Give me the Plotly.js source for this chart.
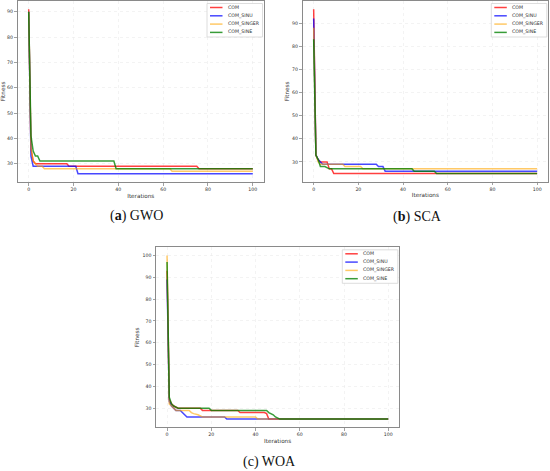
<!DOCTYPE html>
<html>
<head>
<meta charset="utf-8">
<script src="https://cdn.plot.ly/plotly-3.0.1.min.js"></script>
<style>html,body{margin:0;padding:0;background:#fff;}#chart{width:550px;height:471px;}</style>
</head>
<body>
<div id="chart"></div>
<script>
// ---------------- data ----------------
const seriesNames = ['COM', 'COM_SINU', 'COM_SINGER', 'COM_SINE'];
const xTicks = [0, 20, 40, 60, 80, 100];

// (a) GWO : iteration breakpoints and best fitness
const gwoComIter    = [0, 1, 2, 3, 17, 18, 75, 76, 100];
const gwoComFit     = [91, 36, 31, 30, 30, 29, 29, 28, 28];
const gwoSinuIter   = [0, 1, 2, 21, 22, 100];
const gwoSinuFit    = [90, 33, 29, 29, 26, 26];
const gwoSingerIter = [0, 1, 2, 3, 4, 6, 7, 63, 64, 100];
const gwoSingerFit  = [90, 36, 31, 30, 29, 29, 28, 28, 27, 27];
const gwoSineIter   = [0, 1, 2, 3, 4, 5, 38, 39, 100];
const gwoSineFit    = [90, 41, 35, 33, 33, 31, 31, 28, 28];
const gwoYTicks     = [30, 40, 50, 60, 70, 80, 90];

// (b) SCA
const scaComIter    = [0, 1, 2, 3, 6, 7, 8, 9, 100];
const scaComFit     = [96, 33, 31, 30, 30, 27, 27, 25, 25];
const scaSinuIter   = [0, 1, 2, 3, 4, 28, 29, 31, 32, 100];
const scaSinuFit    = [92, 33, 31, 30, 29, 29, 28, 28, 26, 26];
const scaSingerIter = [0, 1, 2, 3, 13, 14, 21, 22, 100];
const scaSingerFit  = [88, 33, 30, 29, 29, 28, 28, 27, 27];
const scaSineIter   = [0, 1, 2, 3, 5, 6, 7, 44, 45, 54, 55, 100];
const scaSineFit    = [83, 33, 31, 28, 28, 27.5, 27, 27, 26, 26, 25, 25];
const scaYTicks     = [30, 40, 50, 60, 70, 80, 90];

// (c) WOA
const woaComIter    = [0, 1, 2, 3, 5, 15, 16, 32, 33, 44, 45, 46, 100];
const woaComFit     = [93, 34, 32, 31, 30, 30, 29, 29, 28, 28, 27.5, 25, 25];
const woaSinuIter   = [0, 1, 2, 3, 4, 6, 7, 8, 9, 26, 27, 100];
const woaSinuFit    = [89, 33, 31, 30, 29, 29, 28, 27, 26, 26, 25, 25];
const woaSingerIter = [0, 1, 2, 3, 4, 10, 11, 12, 14, 16, 40, 41, 100];
const woaSingerFit  = [100, 32, 31, 30, 29, 29, 28, 27.5, 27, 26, 26, 25, 25];
const woaSineIter   = [0, 1, 2, 3, 5, 19, 20, 45, 46, 47, 48, 49, 50, 51, 100];
const woaSineFit    = [97, 35, 32, 31, 30, 30, 29, 29, 28, 27.5, 27, 26, 25.5, 25, 25];
const woaYTicks     = [30, 40, 50, 60, 70, 80, 90, 100];

// ---------------- styling ----------------
const W = 550, H = 471;
const colors = ['rgba(255,0,0,0.75)', 'rgba(0,0,255,0.72)', 'rgba(255,165,0,0.6)', 'rgba(0,128,0,0.78)'];
const FONT = "'DejaVu Sans', sans-serif";
const SERIF = "'Liberation Serif', 'DejaVu Serif', serif";

const panels = [
  { xa: 'x',  ya: 'y',  px: [17.5, 264],   py: [1, 182],     yr: [22.75, 94.25], yt: gwoYTicks,
    iters: [gwoComIter, gwoSinuIter, gwoSingerIter, gwoSineIter],
    fits:  [gwoComFit, gwoSinuFit, gwoSingerFit, gwoSineFit] },
  { xa: 'x2', ya: 'y2', px: [302.5, 548.3], py: [1, 181.7],   yr: [21.45, 99.55], yt: scaYTicks,
    iters: [scaComIter, scaSinuIter, scaSingerIter, scaSineIter],
    fits:  [scaComFit, scaSinuFit, scaSingerFit, scaSineFit] },
  { xa: 'x3', ya: 'y3', px: [156, 399.3],   py: [247.3, 427.3], yr: [21.25, 103.75], yt: woaYTicks,
    iters: [woaComIter, woaSinuIter, woaSingerIter, woaSineIter],
    fits:  [woaComFit, woaSinuFit, woaSingerFit, woaSineFit] }
];

const data = [];
const layout = {
  width: W, height: H,
  margin: { l: 0, r: 0, t: 0, b: 0 },
  paper_bgcolor: '#fff', plot_bgcolor: '#fff',
  showlegend: false,
  font: { family: FONT, color: '#333' },
  shapes: [], annotations: []
};

panels.forEach((p, k) => {
  p.iters.forEach((it, i) => {
    data.push({
      type: 'scatter', mode: 'lines', name: seriesNames[i],
      x: it, y: p.fits[i], xaxis: p.xa, yaxis: p.ya,
      line: { color: colors[i], width: 1.5 }, hoverinfo: 'skip'
    });
  });
  const axx = 'xaxis' + (k ? k + 1 : ''), axy = 'yaxis' + (k ? k + 1 : '');
  const common = {
    showline: true, mirror: true, linecolor: '#8a8a8a', linewidth: 1,
    ticks: 'outside', ticklen: 2.5, tickcolor: '#8a8a8a', tickwidth: 0.8,
    showgrid: true, gridcolor: '#ebebeb', gridwidth: 0.6, griddash: 'dot',
    zeroline: false, tickfont: { size: 4.7, family: FONT, color: '#333' },
    fixedrange: true, automargin: false
  };
  layout[axx] = Object.assign({}, common, {
    domain: [p.px[0] / W, p.px[1] / W], range: [-5, 105],
    tickvals: xTicks, anchor: p.ya,
    title: { text: 'Iterations', font: { size: 5.7, family: FONT, color: '#333' }, standoff: 2 }
  });
  layout[axy] = Object.assign({}, common, {
    domain: [1 - p.py[1] / H, 1 - p.py[0] / H], range: p.yr,
    tickvals: p.yt, anchor: p.xa,
    title: { text: 'Fitness', font: { size: 5.7, family: FONT, color: '#333' }, standoff: 2 }
  });

  // legend box (matplotlib-like) in axis-domain coordinates
  const pw = p.px[1] - p.px[0], ph = p.py[1] - p.py[0];
  const fx = d => 1 - d / pw;     // d px left of right edge
  const fy = d => 1 - d / ph;     // d px below top edge
  const xr = p.xa + ' domain', yr = p.ya + ' domain';
  layout.shapes.push({ type: 'rect', xref: xr, yref: yr, x0: fx(57), x1: fx(1.5), y0: fy(36), y1: fy(2.5),
    fillcolor: 'rgba(255,255,255,0.9)', line: { color: '#d4d4d4', width: 0.8 }, layer: 'above' });
  seriesNames.forEach((nm, i) => {
    const yy = fy(6.5 + i * 8.3);
    layout.shapes.push({ type: 'line', xref: xr, yref: yr, x0: fx(54), x1: fx(41.5), y0: yy, y1: yy,
      line: { color: colors[i], width: 1.5 }, layer: 'above' });
    layout.annotations.push({ xref: xr, yref: yr, x: fx(38.5), y: yy, text: nm, showarrow: false,
      xanchor: 'left', yanchor: 'middle', font: { size: 4.7, family: FONT, color: '#333' } });
  });
});

// captions
const capFont = { family: SERIF, size: 14, color: '#111' };
layout.annotations.push(
  { xref: 'paper', yref: 'paper', x: 136 / W, y: 1 - 216 / H, text: '(<b>a</b>) GWO', showarrow: false, xanchor: 'center', yanchor: 'middle', font: capFont },
  { xref: 'paper', yref: 'paper', x: 417.5 / W, y: 1 - 216.5 / H, text: '(<b>b</b>) SCA', showarrow: false, xanchor: 'center', yanchor: 'middle', font: capFont },
  { xref: 'paper', yref: 'paper', x: 269.5 / W, y: 1 - 462 / H, text: '(c) WOA', showarrow: false, xanchor: 'center', yanchor: 'middle', font: capFont }
);

Plotly.newPlot('chart', data, layout, { displayModeBar: false, staticPlot: true });
</script>
</body>
</html>
